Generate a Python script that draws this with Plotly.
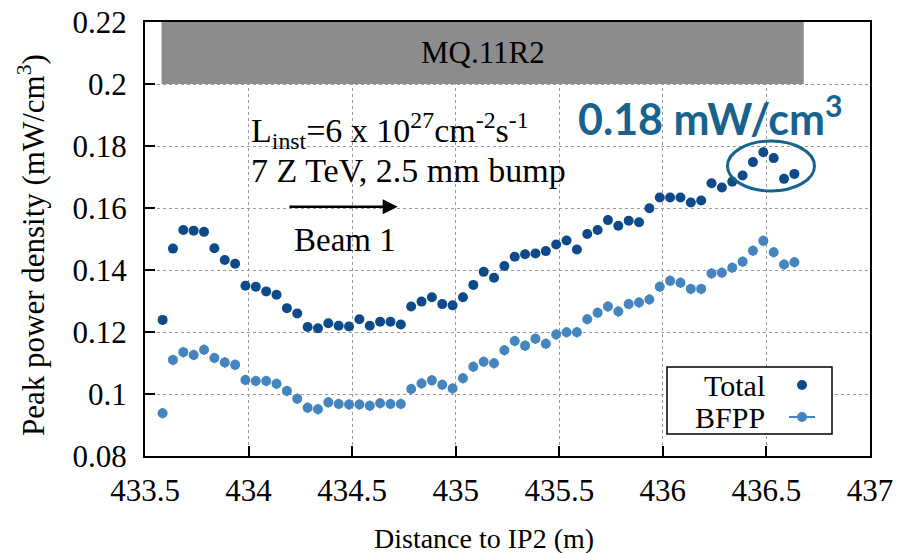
import plotly.graph_objects as go

distance_m = [
    433.585, 433.635, 433.685, 433.735, 433.785, 433.835, 433.885, 433.935, 433.985, 434.035,
    434.085, 434.135, 434.185, 434.235, 434.285, 434.335, 434.385, 434.435, 434.485, 434.535,
    434.585, 434.635, 434.685, 434.735, 434.785, 434.835, 434.885, 434.935, 434.985, 435.035,
    435.085, 435.135, 435.185, 435.235, 435.285, 435.335, 435.385, 435.435, 435.485, 435.535,
    435.585, 435.635, 435.685, 435.735, 435.785, 435.835, 435.885, 435.935, 435.985, 436.035,
    436.085, 436.135, 436.185, 436.235, 436.285, 436.335, 436.385, 436.435, 436.485, 436.535,
    436.585, 436.635,
]

total = [
    0.1239, 0.1469, 0.1529, 0.1527, 0.1523, 0.1470, 0.1432, 0.1420, 0.1349, 0.1346,
    0.1331, 0.1320, 0.1277, 0.1260, 0.1216, 0.1212, 0.1228, 0.1220, 0.1218, 0.1241,
    0.1220, 0.1233, 0.1233, 0.1224, 0.1282, 0.1298, 0.1312, 0.1290, 0.1286, 0.1312,
    0.1352, 0.1394, 0.1375, 0.1413, 0.1443, 0.1451, 0.1453, 0.1461, 0.1482, 0.1495,
    0.1466, 0.1516, 0.1529, 0.1561, 0.1543, 0.1559, 0.1554, 0.1599, 0.1634, 0.1634,
    0.1634, 0.1618, 0.1624, 0.1680, 0.1666, 0.1685, 0.1705, 0.1748, 0.1780, 0.1761,
    0.1694, 0.1710,
]

bfpp = [
    0.0938, 0.1110, 0.1135, 0.1126, 0.1143, 0.1116, 0.1102, 0.1094, 0.1045, 0.1042,
    0.1042, 0.1033, 0.1010, 0.0985, 0.0956, 0.0951, 0.0973, 0.0968, 0.0966, 0.0966,
    0.0962, 0.0970, 0.0968, 0.0968, 0.1016, 0.1034, 0.1044, 0.1030, 0.1018, 0.1051,
    0.1088, 0.1104, 0.1099, 0.1141, 0.1171, 0.1156, 0.1178, 0.1162, 0.1192, 0.1199,
    0.1199, 0.1241, 0.1262, 0.1282, 0.1266, 0.1290, 0.1295, 0.1305, 0.1346, 0.1365,
    0.1359, 0.1339, 0.1339, 0.1389, 0.1391, 0.1407, 0.1427, 0.1462, 0.1494, 0.1457,
    0.1418, 0.1425,
]

x_ticks = [433.5, 434, 434.5, 435, 435.5, 436, 436.5, 437]
x_tick_labels = ["433.5", "434", "434.5", "435", "435.5", "436", "436.5", "437"]
y_ticks = [0.08, 0.1, 0.12, 0.14, 0.16, 0.18, 0.2, 0.22]
y_tick_labels = ["0.08", "0.1", "0.12", "0.14", "0.16", "0.18", "0.2", "0.22"]

magnet_name = "MQ.11R2"
magnet_start, magnet_end = 433.58, 436.68
peak_label = "0.18 mW/cm<sup>3</sup>"

C_TOTAL = "#0d4a8a"
C_BFPP = "#4585bf"
C_TEAL = "#17628e"
SERIF = "Liberation Serif, Times New Roman, serif"

fig = go.Figure()

fig.add_trace(go.Scatter(
    x=distance_m, y=bfpp, mode="markers", name="BFPP",
    marker=dict(color=C_BFPP, size=10, line=dict(width=0)),
    error_y=dict(type="constant", value=0.0017, color=C_BFPP, thickness=1.5, width=0),
))
fig.add_trace(go.Scatter(
    x=distance_m, y=total, mode="markers", name="Total",
    marker=dict(color=C_TOTAL, size=10, line=dict(width=0)),
))

axis_common = dict(
    showline=True, linecolor="black", linewidth=2, mirror=True,
    ticks="inside", ticklen=10, tickwidth=1.5, tickcolor="black",
    showgrid=True, gridcolor="#9a9a9a", griddash="dot", gridwidth=1,
    zeroline=False, automargin=False,
    tickfont=dict(family=SERIF, size=31, color="black"),
)

fig.update_xaxes(
    range=[433.5, 437], tickvals=x_ticks, ticktext=x_tick_labels,
    ticklabelstandoff=6,
    **axis_common,
)
fig.update_yaxes(
    range=[0.08, 0.22], tickvals=y_ticks, ticktext=y_tick_labels,
    ticklabelstandoff=10,
    **axis_common,
)

shapes = [
    dict(type="rect", xref="x", yref="y", x0=magnet_start, x1=magnet_end, y0=0.2, y1=0.22,
         fillcolor="#8c8c8c", line=dict(width=0), layer="above"),
    dict(type="circle", xref="x", yref="y", x0=436.312, x1=436.732, y0=0.1655, y1=0.1816,
         line=dict(color=C_TEAL, width=3)),
    # legend box
    dict(type="rect", xref="paper", yref="paper", x0=(667 - 145) / 725, x1=(832 - 145) / 725,
         y0=(456 - 434) / 434, y1=(456 - 367) / 434,
         fillcolor="white", line=dict(color="black", width=1.5), layer="above"),
    dict(type="circle", xref="paper", yref="paper", xsizemode="pixel", ysizemode="pixel",
         xanchor=(802 - 145) / 725, yanchor=(456 - 385) / 434, x0=-5, x1=5, y0=-5, y1=5,
         fillcolor=C_TOTAL, line=dict(width=0), layer="above"),
    dict(type="line", xref="paper", yref="paper",
         x0=(789 - 145) / 725, x1=(815 - 145) / 725, y0=(456 - 417) / 434, y1=(456 - 417) / 434,
         line=dict(color=C_BFPP, width=2), layer="above"),
    dict(type="circle", xref="paper", yref="paper", xsizemode="pixel", ysizemode="pixel",
         xanchor=(802 - 145) / 725, yanchor=(456 - 417) / 434, x0=-5, x1=5, y0=-5, y1=5,
         fillcolor=C_BFPP, line=dict(width=0), layer="above"),
]

annotations = [
    dict(x=435.13, y=0.2103, xref="x", yref="y", text=magnet_name,
         showarrow=False, font=dict(family=SERIF, size=31, color="black")),
    dict(x=434.0, y=0.1850, xref="x", yref="y", xanchor="left", yanchor="middle",
         text="L<sub>inst</sub>=6 x 10<sup>27</sup>cm<sup>-2</sup>s<sup>-1</sup>",
         showarrow=False, font=dict(family=SERIF, size=34, color="black")),
    dict(x=434.0, y=0.1720, xref="x", yref="y", xanchor="left", yanchor="middle",
         text="7 Z TeV, 2.5 mm bump",
         showarrow=False, font=dict(family=SERIF, size=34, color="black")),
    dict(x=434.72, y=0.1604, ax=434.19, ay=0.1604, xref="x", yref="y", axref="x", ayref="y",
         text="", showarrow=True, arrowhead=2, arrowsize=1.2, arrowwidth=2.5, arrowcolor="black"),
    dict(x=434.21, y=0.1497, xref="x", yref="y", xanchor="left", yanchor="middle",
         text="Beam 1", showarrow=False, font=dict(family=SERIF, size=33, color="black")),
    dict(x=436.23, y=0.1900, xref="x", yref="y", xanchor="center", yanchor="middle",
         text="<b>" + peak_label + "</b>", showarrow=False,
         font=dict(family="Lato, Noto Sans, sans-serif", size=43, color=C_TEAL)),
    dict(x=(767 - 145) / 725, y=(456 - 385) / 434, xref="paper", yref="paper",
         xanchor="right", yanchor="middle", text="Total", showarrow=False,
         font=dict(family=SERIF, size=30, color="black")),
    dict(x=(767 - 145) / 725, y=(456 - 417) / 434, xref="paper", yref="paper",
         xanchor="right", yanchor="middle", text="BFPP", showarrow=False,
         font=dict(family=SERIF, size=30, color="black")),
    dict(x=(484 - 145) / 725, y=(456 - 538) / 434, xref="paper", yref="paper",
         xanchor="center", yanchor="middle", text="Distance to IP2 (m)", showarrow=False,
         font=dict(family=SERIF, size=28, color="black")),
    dict(x=(31 - 145) / 725, y=(456 - 245) / 434, xref="paper", yref="paper",
         xanchor="center", yanchor="middle", textangle=-90,
         text="Peak power density (mW/cm<sup>3</sup>)", showarrow=False,
         font=dict(family=SERIF, size=31, color="black")),
]

fig.update_layout(
    width=899, height=553,
    margin=dict(l=145, r=29, t=22, b=97),
    plot_bgcolor="white", paper_bgcolor="white",
    showlegend=False,
    shapes=shapes, annotations=annotations,
)

fig.write_html("out.html")
